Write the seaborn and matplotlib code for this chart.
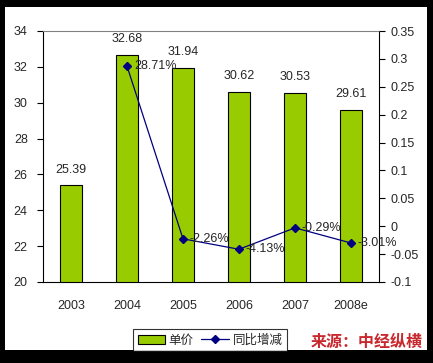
import matplotlib
matplotlib.use("Agg")
import matplotlib.pyplot as plt
import seaborn as sns
import pandas as pd
import numpy as np
from matplotlib.patches import Rectangle
from matplotlib.lines import Line2D
from matplotlib.patches import Patch

years = ["2003", "2004", "2005", "2006", "2007", "2008e"]
price = [25.39, 32.68, 31.94, 30.62, 30.53, 29.61]
growth_years = ["2004", "2005", "2006", "2007", "2008e"]
growth = [0.2871, -0.0226, -0.0413, -0.0029, -0.0301]
growth_labels = ["28.71%", "-2.26%", "-4.13%", "-0.29%", "-3.01%"]

sns.set_style("white")
plt.rcParams['font.family'] = ['Liberation Sans', 'Noto Sans CJK SC', 'DejaVu Sans']

fig = plt.figure(figsize=(4.33, 3.63), dpi=100)
fig.patch.set_facecolor("black")
fig.add_artist(Rectangle((5/433, 13/363), 422/433, 343/363, transform=fig.transFigure,
                         facecolor="white", edgecolor="none", zorder=-1))

ax = fig.add_axes([43/433, 81/363, 336/433, 251/363])
ax.set_facecolor("white")
df = pd.DataFrame({"year": years, "price": price})
sns.barplot(data=df, x="year", y="price", color="#99CC00", edgecolor="black",
            linewidth=0.8, width=0.41, saturation=1, ax=ax)
ax.set_ylim(20, 34)
ax.set_yticks(np.arange(20, 35, 2))
ax.set_xlabel("")
ax.set_ylabel("")
fs = 9
ax.tick_params(axis="y", direction="out", length=4, width=0.8, labelsize=fs, pad=7, color="black")
ax.set_xticks(range(len(years)))
ax.set_xticklabels(years, fontsize=fs)
ax.tick_params(axis="x", length=0, pad=13)
ax.set_xticks(np.arange(-0.5, len(years), 1), minor=True)
ax.tick_params(axis="x", which="minor", direction="out", length=5, width=0.8, color="black")
ax.set_xlim(-0.5, len(years) - 0.5)
for s in ["left", "bottom", "right"]:
    ax.spines[s].set_color("black")
    ax.spines[s].set_linewidth(0.8)
ax.spines["top"].set_color("#808080")
ax.spines["top"].set_linewidth(0.8)

for i, v in enumerate(price):
    ax.annotate(f"{v:.2f}", (i, v), xytext=(0, 7), textcoords="offset points",
                ha="center", va="bottom", fontsize=fs)

ax2 = ax.twinx()
xi = [years.index(y) for y in growth_years]
ax2.plot(xi, growth, color="#000080", linewidth=0.9, marker="D", markersize=4,
         markerfacecolor="#000080", markeredgecolor="#000080")
ax2.set_ylim(-0.1, 0.35)
ax2.set_yticks(np.arange(-0.1, 0.351, 0.05))
ax2.set_yticklabels(["-0.1", "-0.05", "0", "0.05", "0.1", "0.15", "0.2", "0.25", "0.3", "0.35"])
ax2.tick_params(axis="y", direction="out", length=4, width=0.8, labelsize=fs, pad=4, color="black")
for s in ["left", "bottom", "right", "top"]:
    ax2.spines[s].set_visible(False)
for x, v, lab in zip(xi, growth, growth_labels):
    ax2.annotate(lab, (x, v), xytext=(5, 0), textcoords="offset points",
                 ha="left", va="center", fontsize=fs)

handles = [Patch(facecolor="#99CC00", edgecolor="black", linewidth=0.8),
           Line2D([0], [0], color="#000080", linewidth=0.9, marker="D", markersize=4)]
leg = fig.legend(handles, ["单价", "同比增减"], loc="center", bbox_to_anchor=(210/433, (363-340)/363),
                 ncol=2, frameon=True, fancybox=False, handlelength=2.2,
                 handletextpad=0.3, columnspacing=0.6, borderpad=0.35,
                 prop={"family": ["Noto Sans CJK SC"], "size": 9})
leg.get_frame().set_edgecolor("black")
leg.get_frame().set_linewidth(0.8)

fig.text(367/433, (363-342)/363, "来源：中经纵横", color="#C8282D", fontsize=11.5,
         fontweight="bold", ha="center", va="center", family=["Noto Sans CJK SC"])

fig.savefig("out.png", dpi=100, facecolor=fig.get_facecolor())
